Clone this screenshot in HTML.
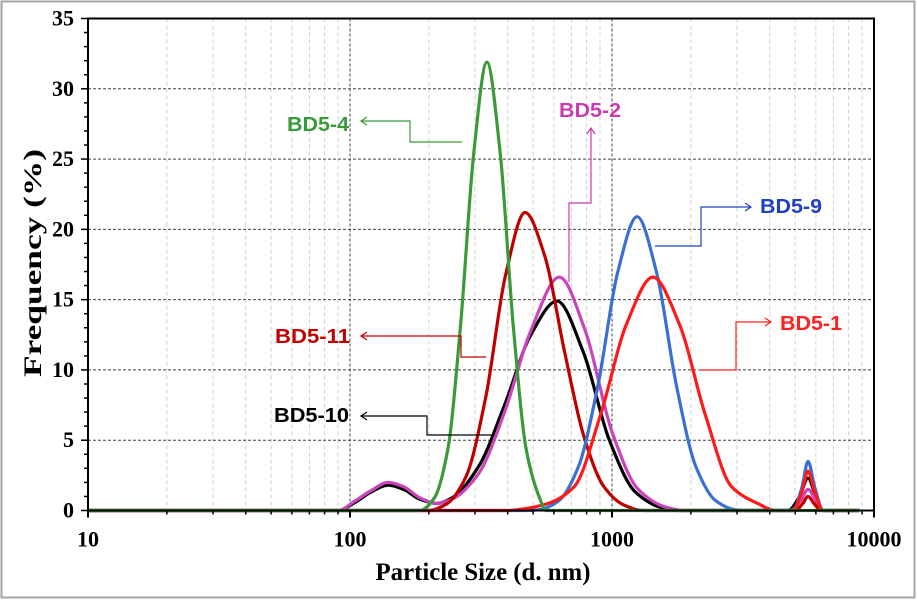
<!DOCTYPE html>
<html><head><meta charset="utf-8"><style>
html,body{margin:0;padding:0;background:#fff;}
svg{display:block;}
.tk{font-family:"Liberation Serif",serif;font-weight:bold;font-size:22px;fill:#000;}
.lb{font-family:"Liberation Sans",sans-serif;font-weight:bold;font-size:20px;}
</style></head><body>
<svg id="chart" width="917" height="600" viewBox="0 0 917 600">
<rect x="1.5" y="1.5" width="913" height="596" fill="#fff" stroke="#a6a6a6" stroke-width="2"/>
<g id="grid"></g>
<g id="series"></g>
<g id="axes"></g>
<text class="tk" x="483" y="580" text-anchor="middle" textLength="215" lengthAdjust="spacingAndGlyphs" style="font-size:25px">Particle Size (d. nm)</text>
<text class="tk" transform="translate(41,263) rotate(-90)" text-anchor="middle" textLength="228" lengthAdjust="spacingAndGlyphs" style="font-size:25px">Frequency (%)</text>
<g id="labels">
<text class="lb" x="287" y="131" textLength="62" lengthAdjust="spacingAndGlyphs" fill="#3a9a3a">BD5-4</text>
<polyline points="361,121 410,121 410,142 462,142" fill="none" stroke="#3a9a3a" stroke-width="1.2"/>
<polyline points="367,117 361,121 367,125" fill="none" stroke="#3a9a3a" stroke-width="1.2"/>
<text class="lb" x="559" y="117" textLength="62" lengthAdjust="spacingAndGlyphs" fill="#cc3ab0">BD5-2</text>
<polyline points="591,128 591,203 569,203 569,282" fill="none" stroke="#cc3ab0" stroke-width="1.2"/>
<polyline points="587,134 591,128 595,134" fill="none" stroke="#cc3ab0" stroke-width="1.2"/>
<text class="lb" x="275" y="343" textLength="75" lengthAdjust="spacingAndGlyphs" fill="#c00000">BD5-11</text>
<polyline points="361,336 461,336 461,357 486,357" fill="none" stroke="#c00000" stroke-width="1.2"/>
<polyline points="367,332 361,336 367,340" fill="none" stroke="#c00000" stroke-width="1.2"/>
<text class="lb" x="274" y="422" textLength="75" lengthAdjust="spacingAndGlyphs" fill="#000">BD5-10</text>
<polyline points="361,416 427,416 427,435 492,435" fill="none" stroke="#000" stroke-width="1.2"/>
<polyline points="367,412 361,416 367,420" fill="none" stroke="#000" stroke-width="1.2"/>
<text class="lb" x="760" y="213" textLength="62" lengthAdjust="spacingAndGlyphs" fill="#2040c0">BD5-9</text>
<polyline points="655,246 701,246 701,207 751,207" fill="none" stroke="#2040c0" stroke-width="1.2"/>
<polyline points="745,203 751,207 745,211" fill="none" stroke="#2040c0" stroke-width="1.2"/>
<text class="lb" x="780" y="330" textLength="62" lengthAdjust="spacingAndGlyphs" fill="#ff2020">BD5-1</text>
<polyline points="700,370 736,370 736,322 771,322" fill="none" stroke="#ff2020" stroke-width="1.2"/>
<polyline points="765,318 771,322 765,326" fill="none" stroke="#ff2020" stroke-width="1.2"/>
</g>
</svg>
<script>
const xTicks=[10,100,1000,10000];
const xTickLabels=["10","100","1000","10000"];
const yTicks=[0,5,10,15,20,25,30,35];
const black10x=[10,90,105,120,140,160,185,215,245,309,389,490,617,776,977,1230,1549,1800,4700,5200,5600,6000,6400,8800];
const black10y=[0,0,0.6,1.3,1.8,1.5,0.8,0.5,0.9,3.1,7.5,12.5,14.9,11.3,5.0,1.3,0.2,0,0,1.0,2.3,1.0,0,0];
const mag2x=[10,90,105,120,140,160,185,215,245,309,389,490,630,790,1000,1260,1600,1900,4800,5250,5600,6000,6400,8800];
const mag2y=[0,0,0.7,1.4,2.0,1.7,0.9,0.5,0.8,2.6,7.0,12.8,16.6,12.8,5.6,1.5,0.25,0,0,0.7,1.5,0.7,0,0];
const dred11x=[10,200,233,277,330,392,466,554,659,783,931,1107,1316,5000,5350,5600,5900,6300,8800];
const dred11y=[0,0,0.45,2.4,8.1,16.7,21.2,18.1,11.3,5.2,1.7,0.4,0,0,0.5,1.0,0.5,0,0];
const blue9x=[10,470,528,627,744,884,1050,1247,1481,1761,2092,2487,2955,3300,4900,5300,5600,5950,6400,8800];
const blue9y=[0,0,0.06,0.7,3.1,8.9,16.9,20.9,16.9,8.9,3.1,0.7,0.06,0,0,1.6,3.5,1.6,0,0];
const red1x=[10,400,453,570,718,904,1138,1433,1804,2271,2859,3599,4200,4900,5300,5600,5950,6400,8800];
const red1y=[0,0,0.1,0.5,1.7,6.8,13.3,16.6,13.3,6.8,1.7,0.5,0,0,1.3,2.8,1.3,0,0];
const green4x=[10,185,210,236,264,297,333,374,420,471,529,560,8800];
const green4y=[0,0,0.9,4.3,13.1,25.5,31.9,25.5,13.1,4.3,0.9,0,0];

const X0=88,X1=874,Y0=510.5,Y1=18.5;
const xs=v=>X0+(Math.log10(v)-1)/3*(X1-X0);
const ys=v=>Y0-v/35*(Y0-Y1);
const NS="http://www.w3.org/2000/svg";
function mk(tag,attrs,parent){const e=document.createElementNS(NS,tag);for(const k in attrs)e.setAttribute(k,attrs[k]);parent.appendChild(e);return e;}
const grid=document.getElementById('grid'),axes=document.getElementById('axes'),ser=document.getElementById('series');
for(let d=1;d<=3;d++)for(let m=2;m<=9;m++){const v=m*Math.pow(10,d);const x=xs(v);
const l=mk('line',{x1:x,x2:x,y1:Y1,y2:Y0,stroke:'#d0d0d0','stroke-width':1,'stroke-dasharray':'4,3'},grid);


const t=mk('line',{x1:x,x2:x,y1:Y0,y2:Y0+4,stroke:'#000','stroke-width':1.5},axes);

}
xTicks.forEach((v,i)=>{const x=xs(v);
if(i>0&&i<xTicks.length-1){const g=mk('line',{x1:x,x2:x,y1:Y1,y2:Y0,stroke:'#444','stroke-width':1,'stroke-dasharray':'3,2'},grid);

}
const t=mk('line',{x1:x,x2:x,y1:Y0,y2:Y0+7,stroke:'#000','stroke-width':2},axes);


const tx=mk('text',{x:x,y:Y0+36,'text-anchor':'middle',class:'tk'},axes);tx.textContent=xTickLabels[i];

});
for(let v=0;v<=35;v++){const y=ys(v);const major=v%5===0;
const t=mk('line',{x1:X0-(major?7:4),x2:X0,y1:y,y2:y,stroke:'#000','stroke-width':1.5},axes);

}
yTicks.forEach(v=>{const y=ys(v);
if(v>0&&v<35){const g=mk('line',{x1:X0,x2:X1,y1:y,y2:y,stroke:'#444','stroke-width':1,'stroke-dasharray':'3,2'},grid);

}
const tx=mk('text',{x:X0-14,y:y+7,'text-anchor':'end',class:'tk'},axes);tx.textContent=String(v);

});
const fr=mk('rect',{x:X0,y:Y1,width:X1-X0,height:Y0-Y1,fill:'none',stroke:'#000','stroke-width':2},axes);


function pathD(xa,ya){const p=xa.map((v,i)=>[xs(v),ys(ya[i])]);const n=p.length;
const dx=[],s=[];for(let i=0;i<n-1;i++){dx[i]=p[i+1][0]-p[i][0];s[i]=(p[i+1][1]-p[i][1])/dx[i];}
const m=[s[0]];for(let i=1;i<n-1;i++){m[i]=(s[i-1]*s[i]<=0)?0:(3*(dx[i-1]+dx[i]))/((2*dx[i]+dx[i-1])/s[i-1]+(dx[i]+2*dx[i-1])/s[i]);}
m[n-1]=s[n-2];
let d='M'+p[0][0]+','+p[0][1];
for(let i=0;i<n-1;i++){const h=dx[i]/3;
d+=` C${p[i][0]+h},${p[i][1]+m[i]*h} ${p[i+1][0]-h},${p[i+1][1]-m[i+1]*h} ${p[i+1][0]},${p[i+1][1]}`;}return d;}
[[black10x,black10y,'#000','series-bd5-10'],[mag2x,mag2y,'#cc44bb','series-bd5-2'],[dred11x,dred11y,'#c00000','series-bd5-11'],
[blue9x,blue9y,'#3a70d0','series-bd5-9'],[red1x,red1y,'#ff1a1a','series-bd5-1'],[green4x,green4y,'#3a9a3a','series-bd5-4']].forEach(s=>{
const p=mk('path',{d:pathD(s[0],s[1]),fill:'none',stroke:s[2],'stroke-width':3.2,'stroke-linejoin':'round'},ser);

});
</script>
</body></html>
